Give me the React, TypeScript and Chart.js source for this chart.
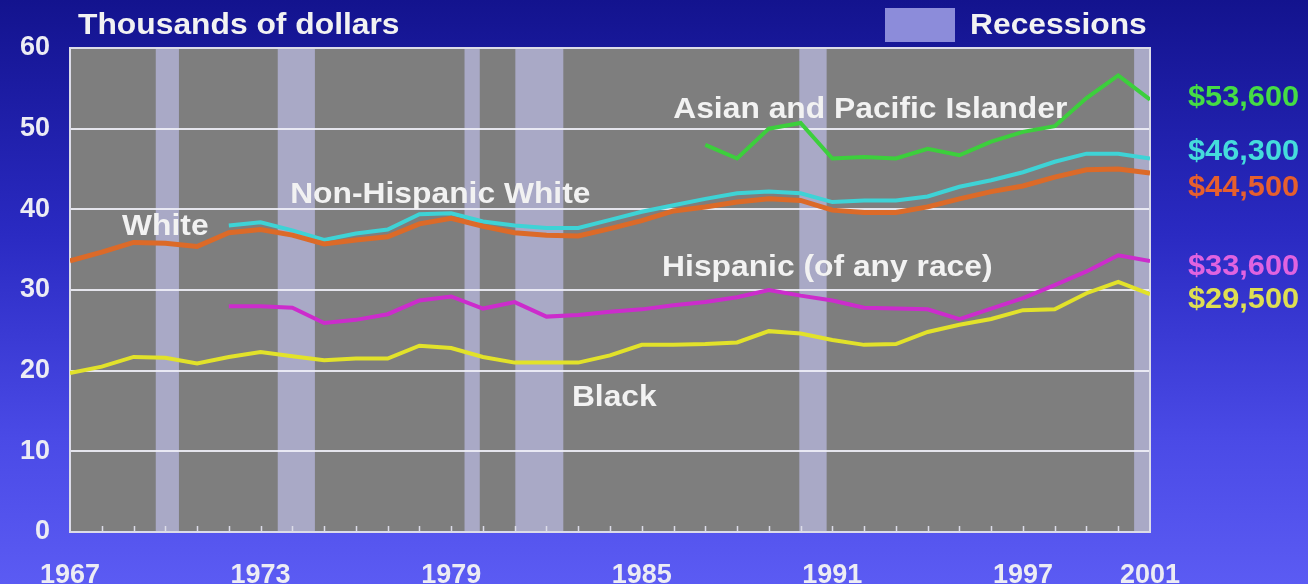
import React, { useEffect, useRef } from "react";
import { Chart, registerables } from "chart.js";

Chart.register(...registerables);

// ---------- data ----------
const years = [
  1967, 1968, 1969, 1970, 1971, 1972, 1973, 1974, 1975, 1976, 1977, 1978,
  1979, 1980, 1981, 1982, 1983, 1984, 1985, 1986, 1987, 1988, 1989, 1990,
  1991, 1992, 1993, 1994, 1995, 1996, 1997, 1998, 1999, 2000, 2001,
];

const asianPacific = [
  null, null, null, null, null, null, null, null, null, null, null, null,
  null, null, null, null, null, null, null, null, 48.0, 46.3, 50.0, 50.7,
  46.3, 46.5, 46.3, 47.5, 46.7, 48.4, 49.6, 50.3, 53.8, 56.6, 53.6,
];

const nonHispanicWhite = [
  null, null, null, null, null, 38.0, 38.4, 37.4, 36.2, 37.0, 37.5, 39.4,
  39.5, 38.5, 38.0, 37.7, 37.7, 38.7, 39.7, 40.5, 41.3, 42.0, 42.2, 42.0,
  40.9, 41.1, 41.1, 41.6, 42.8, 43.6, 44.6, 45.9, 46.9, 46.9, 46.3,
];

const white = [
  33.6, 34.7, 35.9, 35.8, 35.4, 37.1, 37.5, 36.8, 35.7, 36.2, 36.6, 38.2,
  38.9, 37.9, 37.1, 36.8, 36.7, 37.6, 38.6, 39.8, 40.3, 40.9, 41.3, 41.1,
  39.9, 39.6, 39.6, 40.3, 41.3, 42.2, 42.9, 44.0, 44.9, 45.0, 44.5,
];

const hispanic = [
  null, null, null, null, null, 28.0, 28.0, 27.8, 25.9, 26.3, 27.0, 28.7,
  29.2, 27.7, 28.5, 26.7, 26.9, 27.3, 27.6, 28.1, 28.5, 29.1, 30.0, 29.3,
  28.7, 27.8, 27.7, 27.6, 26.4, 27.7, 29.0, 30.6, 32.3, 34.3, 33.6,
];

const black = [
  19.7, 20.5, 21.7, 21.6, 20.9, 21.7, 22.3, 21.8, 21.3, 21.5, 21.5, 23.1,
  22.8, 21.7, 21.0, 21.0, 21.0, 21.9, 23.2, 23.2, 23.3, 23.5, 24.9, 24.6,
  23.8, 23.2, 23.3, 24.8, 25.7, 26.4, 27.5, 27.6, 29.6, 31.0, 29.5,
];

const seriesNames = [
  "Asian and Pacific Islander",
  "Non-Hispanic White",
  "White",
  "Hispanic (of any race)",
  "Black",
];

const recessionStart = [1969.7, 1973.54, 1979.42, 1981.02, 1989.96, 2000.5];
const recessionEnd = [1970.43, 1974.71, 1979.9, 1982.53, 1990.82, 2001.0];

const xTickYears = [1967, 1973, 1979, 1985, 1991, 1997, 2001];
const yTicks = [0, 10, 20, 30, 40, 50, 60];

// anchors (data units) for in-plot series names: [year, value]
const nameAnchorYear = [1985.99, 1973.93, 1968.64, 1985.64, 1982.8];
const nameAnchorValue = [52.3, 41.8, 37.8, 32.7, 16.6];
// anchors (data units) for end-value labels at the right
const endLabelValue = [53.8, 47.1, 42.6, 32.8, 28.7];

// ---------- styles ----------
const lineColors = ["#3ccf3c", "#3ed3d6", "#dc6a28", "#cc2ccc", "#e2e22a"];
const labelColors = ["#45dc45", "#45dcdc", "#e65f2e", "#e063e0", "#dede52"];
const lineWidths = [4, 4, 5, 4, 4];
const FONT = '"Liberation Sans", Arial, Helvetica, sans-serif';
const STRETCH = 1.06;

const allSeries = [asianPacific, nonHispanicWhite, white, hispanic, black];

const fmtDollars = (v: number) =>
  "$" + Math.round(v * 1000).toLocaleString("en-US");

function stretchText(ctx: CanvasRenderingContext2D, text: string, x: number, y: number) {
  ctx.save();
  ctx.translate(x, y);
  ctx.scale(STRETCH, 1);
  ctx.fillText(text, 0, 0);
  ctx.restore();
}

const decorPlugin = {
  id: "decor",
  beforeDraw(chart: any) {
    const { ctx, chartArea, scales } = chart;
    const { left, top, right, bottom } = chartArea;
    const x = scales.x;
    ctx.save();
    ctx.fillStyle = "#7e7e7e";
    ctx.fillRect(left, top, right - left, bottom - top);
    ctx.fillStyle = "#a9a9c6";
    recessionStart.forEach((s, i) => {
      const x0 = x.getPixelForValue(s);
      const x1 = x.getPixelForValue(recessionEnd[i]);
      ctx.fillRect(x0, top, x1 - x0, bottom - top);
    });
    ctx.restore();
  },
  beforeDatasetsDraw(chart: any) {
    const { ctx, chartArea, scales } = chart;
    const { left, top, right, bottom } = chartArea;
    const x = scales.x;
    ctx.save();
    ctx.strokeStyle = "#dcdce8";
    ctx.lineWidth = 2;
    ctx.strokeRect(left, top, right - left, bottom - top);
    ctx.lineWidth = 1.5;
    for (const yr of years) {
      if (yr === years[0] || yr === years[years.length - 1]) continue;
      const px = Math.round(x.getPixelForValue(yr)) + 0.5;
      ctx.beginPath();
      ctx.moveTo(px, bottom);
      ctx.lineTo(px, bottom - 6);
      ctx.stroke();
    }
    ctx.restore();
  },
  afterDraw(chart: any) {
    const { ctx, chartArea, scales } = chart;
    const x = scales.x;
    const y = scales.y;
    ctx.save();
    ctx.textBaseline = "middle";
    ctx.textAlign = "left";
    ctx.font = `bold 30px ${FONT}`;
    ctx.fillStyle = "#f2f2f2";
    // axis title
    stretchText(ctx, "Thousands of dollars", chartArea.left + 8, chartArea.top - 22);
    // legend
    ctx.fillStyle = "#8c8cda";
    ctx.fillRect(885, 8, 70, 34);
    ctx.fillStyle = "#f2f2f2";
    stretchText(ctx, "Recessions", 970, 26);
    // series names
    seriesNames.forEach((name, i) => {
      ctx.fillStyle = "#f2f2f2";
      stretchText(
        ctx,
        name,
        x.getPixelForValue(nameAnchorYear[i]),
        y.getPixelForValue(nameAnchorValue[i])
      );
    });
    // end labels
    ctx.font = `bold 29px ${FONT}`;
    allSeries.forEach((s, i) => {
      const last = s[s.length - 1] as number;
      ctx.fillStyle = labelColors[i];
      stretchText(
        ctx,
        fmtDollars(last),
        chartArea.right + 38,
        y.getPixelForValue(endLabelValue[i])
      );
    });
    ctx.restore();
  },
};

export default function App() {
  const canvasRef = useRef<HTMLCanvasElement | null>(null);

  useEffect(() => {
    if (!canvasRef.current) return;
    const datasets = allSeries.map((s, i) => ({
      label: seriesNames[i],
      data: years
        .map((yr, j) => ({ x: yr, y: s[j] }))
        .filter((p) => p.y !== null),
      borderColor: lineColors[i],
      backgroundColor: lineColors[i],
      borderWidth: lineWidths[i],
      pointRadius: 0,
      tension: 0,
      fill: false,
      order: 4 - i,
    }));

    const chart = new Chart(canvasRef.current, {
      type: "line",
      data: { datasets },
      options: {
        animation: false,
        responsive: true,
        maintainAspectRatio: false,
        layout: { padding: { left: 0, right: 158, top: 48, bottom: 0 } },
        plugins: {
          legend: { display: false },
          tooltip: { enabled: false },
        },
        scales: {
          x: {
            type: "linear",
            min: 1967,
            max: 2001,
            afterBuildTicks: (s: any) => {
              s.ticks = xTickYears.map((v) => ({ value: v }));
            },
            afterFit: (s: any) => {
              s.height = 52;
            },
            grid: { display: false, drawTicks: false },
            border: { display: false },
            ticks: {
              color: "#ececf4",
              font: { family: FONT, size: 27, weight: "bold" },
              padding: 27,
              maxRotation: 0,
              autoSkip: false,
              callback: (v: any) => String(v),
            },
          },
          y: {
            min: 0,
            max: 60,
            afterBuildTicks: (s: any) => {
              s.ticks = yTicks.map((v) => ({ value: v }));
            },
            afterFit: (s: any) => {
              s.width = 70;
            },
            grid: {
              color: "rgba(240,240,248,0.9)",
              lineWidth: 2,
              drawTicks: false,
            },
            border: { display: false },
            ticks: {
              color: "#ececf4",
              font: { family: FONT, size: 27, weight: "bold" },
              padding: 20,
            },
          },
        },
      },
      plugins: [decorPlugin],
    } as any);
    return () => chart.destroy();
  }, []);

  return (
    <div
      style={{
        position: "absolute",
        left: 0,
        top: 0,
        width: 1308,
        height: 584,
        background:
          "linear-gradient(to bottom, #13138e 0%, #2a2ac2 40%, #4a4ae6 75%, #5b5bf3 100%)",
      }}
    >
      <canvas ref={canvasRef} />
    </div>
  );
}
